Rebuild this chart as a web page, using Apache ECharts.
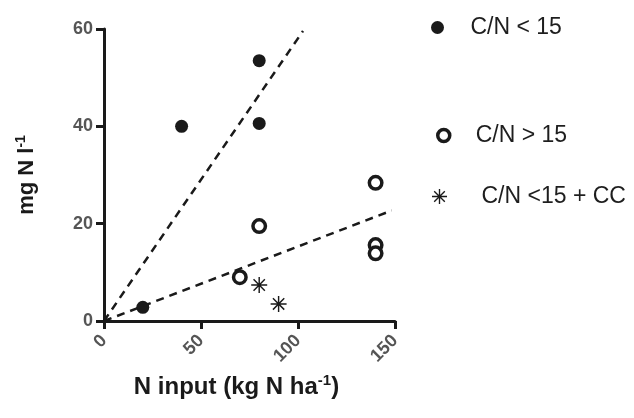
<!DOCTYPE html>
<html>
<head>
<meta charset="utf-8">
<script src="https://cdn.jsdelivr.net/npm/echarts@6/dist/echarts.min.js"></script>
<style>html,body{margin:0;padding:0;background:#fff;}#c{width:634px;height:418px;}</style>
</head>
<body>
<div id="c"></div>
<script>
// Data
var lowCN = [[20, 2.8], [40, 40], [80, 53.5], [80, 40.6]];                 // C/N < 15
var highCN = [[70, 9], [80, 19.5], [140, 28.4], [140, 15.6], [140, 13.9]]; // C/N > 15
var lowCNcc = [[80, 7.4], [90, 3.5]];                                       // C/N <15 + CC
var fitLow = [[0, 0], [102.6, 59.6]];
var fitHigh = [[0, 0], [148.3, 22.7]];
var xTicks = [0, 50, 100, 150];
var yTicks = [0, 20, 40, 60];
var seriesNames = ['C/N < 15', 'C/N > 15', 'C/N <15 + CC'];

var star = 'path://' +
  'M-0.45 -5 L0.45 -5 L0.45 5 L-0.45 5 Z ' +
  'M-5 -0.45 L5 -0.45 L5 0.45 L-5 0.45 Z ' +
  'M3.217 -3.854 L3.854 -3.217 L-3.217 3.854 L-3.854 3.217 Z ' +
  'M-3.854 -3.217 L-3.217 -3.854 L3.854 3.217 L3.217 3.854 Z';

var FONT = 'Liberation Sans, Arial, sans-serif';
var chart = echarts.init(document.getElementById('c'));
var lbl = {fontFamily: FONT, fontWeight: 'bold', fontSize: 18, color: '#555'};
var legText = {fontFamily: FONT, fontSize: 23, color: '#1e1e1e'};
var INK = '#1a1a1a';
chart.setOption({
  animation: false,
  grid: {left: 104, right: 239, top: 29, bottom: 97, containLabel: false},
  xAxis: {
    type: 'value', min: xTicks[0], max: xTicks[xTicks.length - 1], interval: 50,
    splitLine: {show: false},
    axisLine: {lineStyle: {color: INK, width: 3}},
    axisTick: {length: 8, lineStyle: {color: INK, width: 3}},
    axisLabel: Object.assign({rotate: 45, margin: 17}, lbl),
    name: '{b|N input (kg N ha}{s|-1}{b|)}',
    nameLocation: 'middle', nameGap: 52,
    nameTextStyle: {padding: [0, 26, 0, 0], rich: {
      b: {fontFamily: FONT, fontWeight: 'bold', fontSize: 24, color: INK, verticalAlign: 'bottom'},
      s: {fontFamily: FONT, fontWeight: 'bold', fontSize: 15, color: INK, verticalAlign: 'top', padding: [0, 0, 11, 0]}
    }}
  },
  yAxis: {
    type: 'value', min: yTicks[0], max: yTicks[yTicks.length - 1], interval: 20,
    splitLine: {show: false},
    axisLine: {show: true, lineStyle: {color: INK, width: 3}},
    axisTick: {show: true, length: 8, lineStyle: {color: INK, width: 3}},
    axisLabel: Object.assign({margin: 11}, lbl),
    name: '{b|mg N l}{s|-1}',
    nameLocation: 'middle', nameGap: 66, nameRotate: 90,
    nameTextStyle: {rich: {
      b: {fontFamily: FONT, fontWeight: 'bold', fontSize: 22, color: INK, verticalAlign: 'bottom'},
      s: {fontFamily: FONT, fontWeight: 'bold', fontSize: 14, color: INK, verticalAlign: 'top', padding: [0, 0, 10, 0]}
    }}
  },
  legend: [
    {data: [{name: seriesNames[0], itemStyle: {color: INK, opacity: 1}}],
     left: 426, top: 11, orient: 'vertical', itemWidth: 56, itemHeight: 13, textStyle: legText},
    {data: [{name: seriesNames[1], itemStyle: {color: '#fff', borderColor: INK, borderWidth: 3.5, opacity: 1}}],
     left: 431, top: 119, orient: 'vertical', itemWidth: 54, itemHeight: 12, textStyle: legText},
    {data: [{name: seriesNames[2], itemStyle: {color: INK, opacity: 1}}],
     left: 427, top: 180, orient: 'vertical', itemWidth: 74, itemHeight: 15, textStyle: legText}
  ],
  series: [
    {type: 'line', data: fitLow, showSymbol: false, symbol: 'none', silent: true,
     lineStyle: {color: INK, width: 2.5, type: [8, 6]}},
    {type: 'line', data: fitHigh, showSymbol: false, symbol: 'none', silent: true,
     lineStyle: {color: INK, width: 2.5, type: [8, 6]}},
    {name: seriesNames[0], type: 'scatter', data: lowCN, symbol: 'circle', symbolSize: 13,
     itemStyle: {color: INK, opacity: 1}},
    {name: seriesNames[1], type: 'scatter', data: highCN, symbol: 'circle', symbolSize: 12.5,
     itemStyle: {color: '#fff', borderColor: INK, borderWidth: 3.5, opacity: 1}},
    {name: seriesNames[2], type: 'scatter', data: lowCNcc, symbol: star, symbolSize: 16,
     itemStyle: {color: INK, opacity: 1}}
  ]
});
</script>
</body>
</html>
